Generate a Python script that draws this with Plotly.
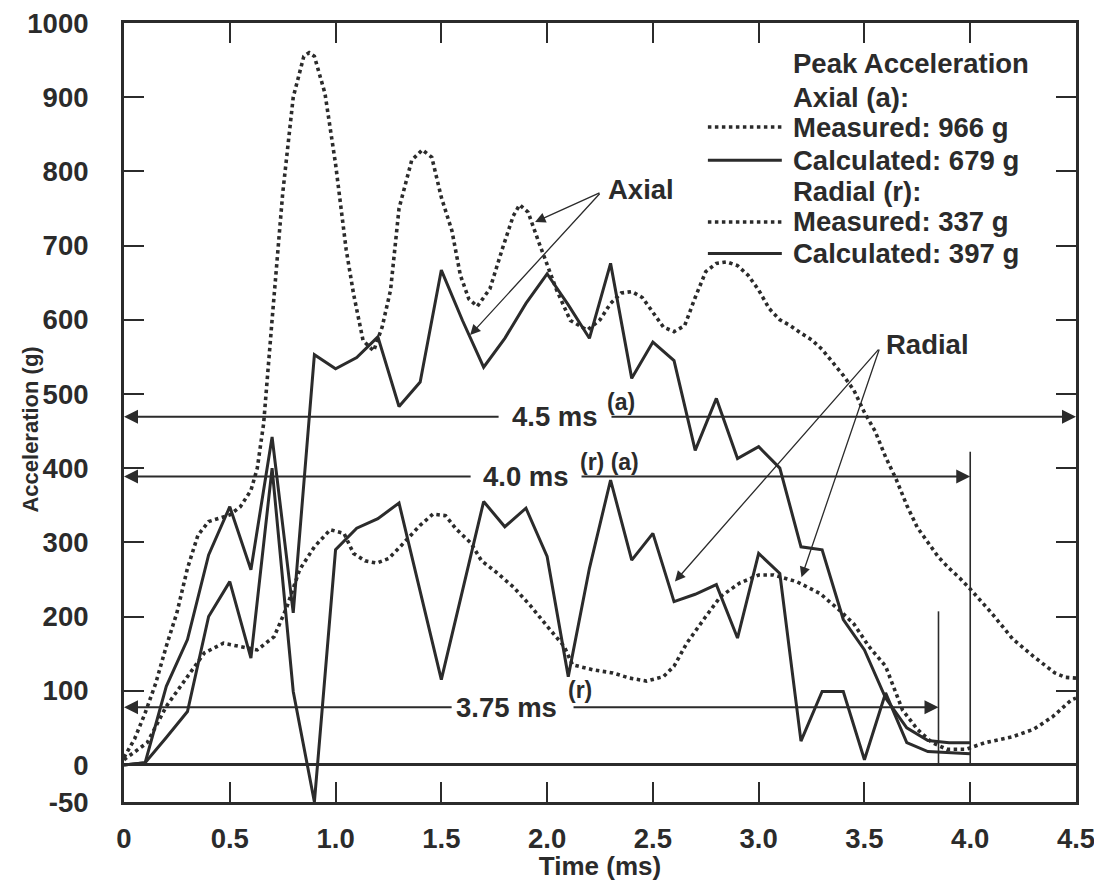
import plotly.graph_objects as go

# ---------------- data ----------------
t_calc = [0, 0.1, 0.2, 0.3, 0.4, 0.5, 0.6, 0.7, 0.8, 0.9, 1.0, 1.1, 1.2, 1.3, 1.4,
          1.5, 1.6, 1.7, 1.8, 1.9, 2.0, 2.1, 2.2, 2.3, 2.4, 2.5, 2.6, 2.7, 2.8, 2.9,
          3.0, 3.1, 3.2, 3.3, 3.4, 3.5, 3.6, 3.7, 3.8, 3.9, 4.0]
axial_calc = [0, 3, 106, 169, 283, 348, 263, 442, 205, 553, 534, 549, 577, 483, 516,
              667, 599, 536, 575, 622, 662, 620, 575, 676, 521, 570, 545, 424, 494, 413,
              429, 400, 294, 290, 196, 155, 90, 50, 33, 30, 30]
radial_calc = [0, 3, 37, 72, 200, 247, 144, 400, 99, -50, 290, 319, 332, 353, 234,
               115, 235, 355, 321, 346, 281, 119, 265, 384, 276, 312, 220, 230, 243, 171,
               285, 258, 32, 99, 99, 7, 97, 30, 18, 16, 15]

t_axial_meas = [0, 0.05, 0.1, 0.15, 0.2, 0.25, 0.3, 0.35, 0.4, 0.45, 0.5, 0.55, 0.6, 0.63,
                0.66, 0.7, 0.75, 0.8, 0.85, 0.875, 0.9, 0.95, 1.0, 1.05, 1.085, 1.13, 1.18,
                1.22, 1.26, 1.3, 1.36, 1.41, 1.455, 1.5, 1.55, 1.59, 1.63, 1.67, 1.73, 1.79,
                1.84, 1.87, 1.91, 1.96, 2.0, 2.045, 2.11, 2.19, 2.25, 2.3, 2.35, 2.4, 2.45,
                2.5, 2.55, 2.6, 2.65, 2.7, 2.75, 2.8, 2.85, 2.9, 2.95, 3.0, 3.05, 3.1, 3.15,
                3.2, 3.25, 3.3, 3.35, 3.4, 3.45, 3.5, 3.55, 3.6, 3.65, 3.7, 3.75, 3.8, 3.85,
                3.9, 3.95, 4.0, 4.1, 4.2, 4.3, 4.4, 4.45, 4.5]
axial_meas = [10, 35, 70, 110, 160, 205, 265, 310, 328, 333, 337, 348, 370, 400,
              460, 600, 770, 900, 955, 960, 955, 905, 810, 695, 635, 572, 558,
              590, 640, 750, 815, 829, 819, 765, 720, 660, 628, 618, 642, 697,
              740, 755, 745, 705, 675, 640, 599, 586, 600, 622, 636, 638, 630,
              610, 590, 584, 592, 630, 665, 676, 678, 673, 660, 640, 615, 600, 592,
              582, 573, 560, 542, 525, 505, 475, 450, 415, 385, 350, 320, 300, 280,
              265, 252, 237, 205, 170, 146, 124, 118, 117]

t_radial_meas = [0, 0.11, 0.2, 0.3, 0.38, 0.47, 0.55, 0.63, 0.71, 0.77, 0.83, 0.9, 0.975,
                 1.04, 1.085, 1.14, 1.195, 1.25, 1.305, 1.4, 1.46, 1.52, 1.57, 1.64, 1.69,
                 1.75, 1.84, 1.92, 2.0, 2.08, 2.12, 2.22, 2.31, 2.39, 2.47, 2.55, 2.6, 2.66,
                 2.75, 2.82, 2.91, 3.0, 3.07, 3.18, 3.29, 3.38, 3.45, 3.52, 3.6, 3.65, 3.68,
                 3.75, 3.82, 3.89, 3.98, 4.07, 4.2, 4.3, 4.39, 4.48, 4.5]
radial_meas = [7, 30, 79, 119, 151, 164, 160, 155, 173, 213, 263, 294, 317,
               312, 285, 275, 272, 278, 294, 323, 338, 336, 318, 299, 275,
               262, 240, 215, 187, 160, 135, 128, 124, 117, 113, 119, 133, 164,
               200, 227, 245, 256, 256, 247, 231, 209, 190, 160, 133, 97, 74,
               48, 30, 21, 21, 30, 38, 48, 65, 88, 90]

x_tickvals = [0, 0.5, 1.0, 1.5, 2.0, 2.5, 3.0, 3.5, 4.0, 4.5]
x_ticktext = ["0", "0.5", "1.0", "1.5", "2.0", "2.5", "3.0", "3.5", "4.0", "4.5"]
y_tickvals = [-50, 0, 100, 200, 300, 400, 500, 600, 700, 800, 900, 1000]
y_ticktext = ["-50", "0", "100", "200", "300", "400", "500", "600", "700", "800", "900", "1000"]

legend_header = "Peak Acceleration"
legend_groups = ["Axial (a):", "Radial (r):"]
legend_items = ["Measured: 966 g", "Calculated: 679 g", "Measured: 337 g", "Calculated: 397 g"]

# ---------------- styling / layout helpers ----------------
INK = "#2b2b2b"
FONT = "Liberation Sans, Arial, Helvetica, sans-serif"
PAGE_PAD = 8                      # default body margin of the html page
W, H = 1102 - 2 * PAGE_PAD, 889 - 2 * PAGE_PAD
# plot area in page pixels
L, R, T, B = 123.5, 1076.5, 22.5, 802.5
XMIN, XMAX, YMIN, YMAX = 0, 4.5, -50, 1000
FS = 27.5


def dx(px):
    return XMIN + (px - L) / (R - L) * (XMAX - XMIN)


def dy(py):
    return YMIN + (B - py) / (B - T) * (YMAX - YMIN)


def paper_x(px):
    return (px - L) / (R - L)


def paper_y(py):
    return (B - py) / (B - T)


DOT = "3.5px,3.5px"

fig = go.Figure()
fig.add_trace(go.Scatter(x=t_axial_meas, y=axial_meas, mode="lines", name="Axial measured",
                         line=dict(color=INK, width=3.6, dash=DOT)))
fig.add_trace(go.Scatter(x=t_radial_meas, y=radial_meas, mode="lines", name="Radial measured",
                         line=dict(color=INK, width=3.6, dash=DOT)))
fig.add_trace(go.Scatter(x=t_calc, y=axial_calc, mode="lines", name="Axial calculated",
                         line=dict(color=INK, width=3)))
fig.add_trace(go.Scatter(x=t_calc, y=radial_calc, mode="lines", name="Radial calculated",
                         line=dict(color=INK, width=3)))

shapes = []
annotations = []

# vertical marker lines
shapes.append(dict(type="line", xref="x", yref="y", x0=4.0, x1=4.0, y0=0, y1=422,
                   line=dict(color=INK, width=1.6)))
shapes.append(dict(type="line", xref="x", yref="y", x0=3.85, x1=3.85, y0=0, y1=207,
                   line=dict(color=INK, width=1.6)))


def harrow(x_tail, x_head, y):
    annotations.append(dict(x=x_head, y=y, ax=x_tail, ay=y, xref="x", yref="y",
                            axref="x", ayref="y", text="", showarrow=True,
                            arrowhead=2, arrowsize=1.4, arrowwidth=2, arrowcolor=INK))


def label(text, px, py, size=FS, anchor="center"):
    annotations.append(dict(x=paper_x(px), y=paper_y(py), xref="paper", yref="paper", text=text,
                            showarrow=False, xanchor=anchor, yanchor="middle",
                            font=dict(family=FONT, size=size, color=INK, weight="bold")))


# duration arrows
y45, y40, y375 = dy(416.7), dy(476.7), dy(707.7)
harrow(dx(500), 0, y45)
harrow(dx(610), 4.5, y45)
label("4.5 ms", 555, 416.7)
label("(a)", 621, 402, size=23)

harrow(dx(472), 0, y40)
harrow(dx(580), 4.0, y40)
label("4.0 ms", 526, 476.7)
label("(r) (a)", 610, 462, size=23)

harrow(dx(453), 0, y375)
harrow(dx(572), 3.85, y375)
label("3.75 ms", 506, 707.7)
label("(r)", 580, 690, size=23)


def pointer(px0, py0, px1, py1):
    annotations.append(dict(x=dx(px1), y=dy(py1), ax=dx(px0), ay=dy(py0), xref="x", yref="y",
                            axref="x", ayref="y", text="", showarrow=True,
                            arrowhead=2, arrowsize=1.6, arrowwidth=1.3, arrowcolor=INK))


label("Axial", 641, 189)
pointer(601, 192, 535, 221.7)
pointer(601, 192, 470, 335)

label("Radial", 928, 344)
pointer(880, 348, 675, 581.7)
pointer(880, 348, 801.7, 577.5)

# manual legend
LX = 791.7
rows = [63, 96.7, 126.7, 160, 191.7, 221.7, 253.3]
label(legend_header, LX, rows[0], anchor="left")
label(legend_groups[0], LX, rows[1], anchor="left")
label(legend_items[0], LX, rows[2], anchor="left")
label(legend_items[1], LX, rows[3], anchor="left")
label(legend_groups[1], LX, rows[4], anchor="left")
label(legend_items[2], LX, rows[5], anchor="left")
label(legend_items[3], LX, rows[6], anchor="left")
for py, dash in [(rows[2], DOT), (rows[3], "solid"), (rows[5], DOT), (rows[6], "solid")]:
    shapes.append(dict(type="line", xref="x", yref="y", x0=dx(708), x1=dx(782),
                       y0=dy(py), y1=dy(py),
                       line=dict(color=INK, width=3.6 if dash != "solid" else 3, dash=dash)))

# y axis title
annotations.append(dict(x=paper_x(30), y=paper_y(430), xref="paper", yref="paper",
                        text="Acceleration (g)",
                        showarrow=False, textangle=-90, xanchor="center", yanchor="middle",
                        font=dict(family=FONT, size=22, color=INK, weight="bold")))

axis_common = dict(showline=True, linewidth=3, linecolor=INK, mirror="ticks",
                   ticks="inside", ticklen=20, tickwidth=2, tickcolor=INK,
                   showgrid=False, ticklabeloverflow="allow",
                   tickfont=dict(family=FONT, size=FS, color=INK, weight="bold"))

fig.update_layout(
    width=W, height=H,
    margin=dict(l=L - PAGE_PAD, r=(W + PAGE_PAD) - R, t=T - PAGE_PAD, b=(H + PAGE_PAD) - B,
                autoexpand=False),
    paper_bgcolor="white", plot_bgcolor="white",
    showlegend=False,
    shapes=shapes, annotations=annotations,
    xaxis=dict(range=[XMIN, XMAX], tickvals=x_tickvals, ticktext=x_ticktext,
               ticklabelstandoff=10, zeroline=False,
               title=dict(text="Time (ms)", standoff=13,
                          font=dict(family=FONT, size=26, color=INK, weight="bold")),
               **axis_common),
    yaxis=dict(range=[YMIN, YMAX], tickvals=y_tickvals, ticktext=y_ticktext,
               ticklabelstandoff=27, zeroline=True, zerolinewidth=2.5, zerolinecolor=INK,
               **axis_common),
)

fig.write_html("out.html")
